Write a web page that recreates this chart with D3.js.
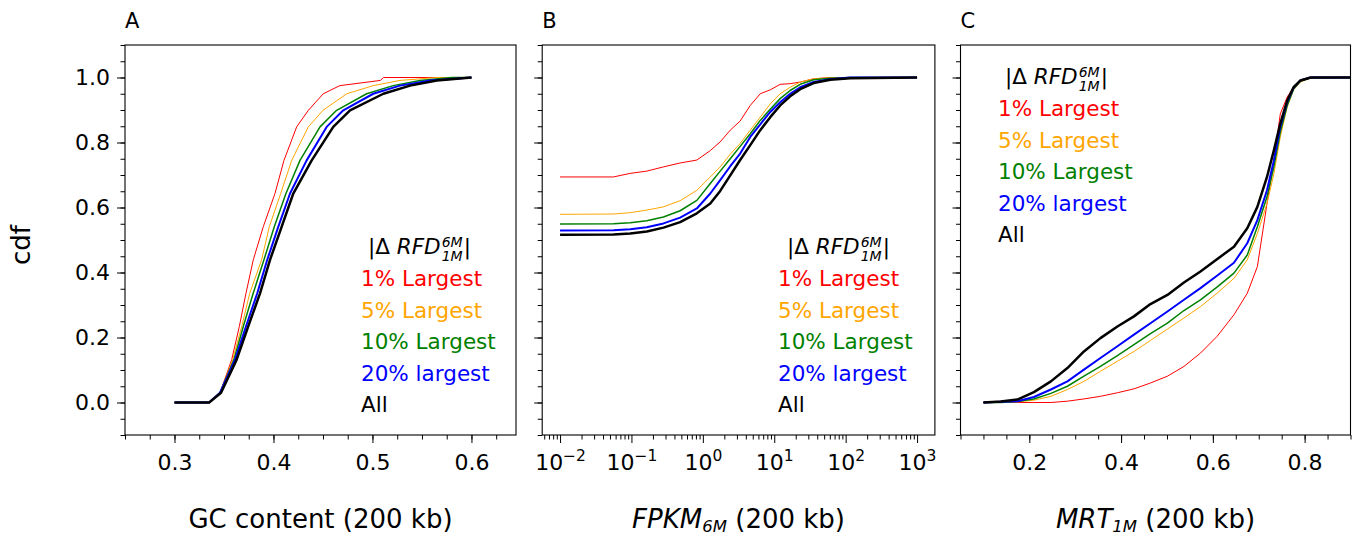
<!DOCTYPE html>
<html>
<head>
<meta charset="utf-8">
<script src="https://cdn.jsdelivr.net/npm/d3@7"></script>
<style>
  body { margin: 0; background: #fff; }
  svg { display: block; }
  text { font-family: "DejaVu Sans", sans-serif; fill: #000; }
</style>
</head>
<body>
<svg id="fig" width="1357" height="537"></svg>
<script>
// ---- series definitions ----
const seriesNames  = ["1% Largest", "5% Largest", "10% Largest", "20% largest", "All"];
const seriesColors = ["#ff0000", "#ffa500", "#008000", "#0000ff", "#000000"];
const seriesWidths = [1, 1, 1.5, 2, 2.5];

// ---- panel A: GC content, given as quantiles at shared cdf levels ----
const gcLevels = [0, 0, 0.03, 0.132, 0.234, 0.336, 0.439, 0.541, 0.643, 0.745, 0.848, 0.899, 0.95, 0.975, 0.991, 1.0, 1.0];
const gcRed    = [0.30, 0.335, 0.346, 0.3578, 0.3655, 0.3722, 0.3796, 0.3897, 0.4015, 0.4106, 0.4234, 0.4352, 0.4503, 0.467, 0.508, 0.511, 0.60];
const gcOrange = [0.30, 0.335, 0.346, 0.3588, 0.3679, 0.376, 0.388, 0.3958, 0.4073, 0.4184, 0.4352, 0.450, 0.474, 0.5008, 0.5278, 0.565, 0.60];
const gcGreen  = [0.30, 0.335, 0.346, 0.3601, 0.3695, 0.3795, 0.3904, 0.4008, 0.4126, 0.4268, 0.447, 0.4638, 0.4941, 0.521, 0.548, 0.58, 0.60];
const gcBlue   = [0.30, 0.335, 0.346, 0.3611, 0.3722, 0.3836, 0.3937, 0.4049, 0.4167, 0.4335, 0.4537, 0.4705, 0.5008, 0.5278, 0.558, 0.60, 0.60];
const gcAll    = [0.30, 0.335, 0.347, 0.3628, 0.3745, 0.3864, 0.3965, 0.4083, 0.42, 0.4386, 0.4604, 0.4773, 0.511, 0.538, 0.565, 0.60, 0.60];

// ---- panel B: FPKM grid and cdf values ----
const fpkmGrid   = [0.01, 0.056, 0.096, 0.164, 0.281, 0.481, 0.824, 1.27, 1.75, 2.42, 3.33, 4.61, 6.37, 8.79, 12.1, 16.7, 23.1, 35.6, 61.0, 116, 1000];
const fpkmRed    = [0.694, 0.694, 0.705, 0.712, 0.725, 0.737, 0.746, 0.775, 0.802, 0.838, 0.866, 0.914, 0.950, 0.962, 0.979, 0.981, 0.986, 0.996, 1.0, 1.0, 1.0];
const fpkmOrange = [0.579, 0.580, 0.584, 0.592, 0.602, 0.621, 0.653, 0.694, 0.725, 0.764, 0.797, 0.838, 0.878, 0.919, 0.950, 0.970, 0.986, 0.996, 0.999, 1.0, 1.0];
const fpkmGreen  = [0.549, 0.550, 0.553, 0.559, 0.571, 0.590, 0.622, 0.674, 0.712, 0.750, 0.788, 0.827, 0.868, 0.902, 0.935, 0.960, 0.979, 0.993, 0.998, 1.0, 1.0];
const fpkmBlue   = [0.529, 0.530, 0.533, 0.539, 0.551, 0.569, 0.597, 0.643, 0.684, 0.727, 0.766, 0.817, 0.856, 0.894, 0.924, 0.950, 0.970, 0.986, 0.995, 1.0, 1.0];
const fpkmAll    = [0.516, 0.517, 0.520, 0.526, 0.538, 0.555, 0.582, 0.612, 0.651, 0.699, 0.746, 0.792, 0.838, 0.878, 0.914, 0.942, 0.964, 0.983, 0.993, 0.998, 1.0];

// ---- panel C: MRT grid and cdf values ----
const mrtGrid   = [0.1, 0.1377, 0.174, 0.210, 0.247, 0.283, 0.319, 0.355, 0.392, 0.428, 0.464, 0.501, 0.537, 0.573, 0.609, 0.646, 0.675, 0.697, 0.718, 0.733, 0.747, 0.762, 0.776, 0.791, 0.813, 0.90];
const mrtRed    = [0, 0, 0, 0, 0, 0.004, 0.011, 0.019, 0.030, 0.042, 0.060, 0.081, 0.111, 0.152, 0.203, 0.270, 0.336, 0.418, 0.612, 0.745, 0.888, 0.940, 0.970, 0.993, 1.0, 1.0];
const mrtOrange = [0, 0, 0.002, 0.007, 0.019, 0.040, 0.065, 0.096, 0.127, 0.157, 0.191, 0.226, 0.260, 0.295, 0.336, 0.382, 0.439, 0.520, 0.612, 0.704, 0.817, 0.909, 0.962, 0.986, 0.998, 1.0];
const mrtGreen  = [0, 0, 0.003, 0.011, 0.028, 0.050, 0.081, 0.111, 0.144, 0.178, 0.212, 0.244, 0.283, 0.316, 0.355, 0.398, 0.454, 0.541, 0.633, 0.725, 0.832, 0.914, 0.965, 0.989, 0.999, 1.0];
const mrtBlue   = [0, 0.002, 0.004, 0.017, 0.040, 0.065, 0.101, 0.137, 0.173, 0.209, 0.244, 0.280, 0.316, 0.352, 0.390, 0.430, 0.490, 0.561, 0.653, 0.745, 0.848, 0.924, 0.968, 0.991, 1.0, 1.0];
const mrtAll    = [0, 0.003, 0.009, 0.032, 0.065, 0.106, 0.157, 0.198, 0.234, 0.265, 0.303, 0.331, 0.369, 0.403, 0.441, 0.479, 0.536, 0.602, 0.694, 0.776, 0.858, 0.929, 0.970, 0.991, 1.0, 1.0];

// ---- tick labels ----
const cdfTicks  = [0.0, 0.2, 0.4, 0.6, 0.8, 1.0];
const gcTicks   = [0.3, 0.4, 0.5, 0.6];
const fpkmTicks = [1e-2, 1e-1, 1e0, 1e1, 1e2, 1e3];
const mrtTicks  = [0.2, 0.4, 0.6, 0.8];

// ---- layout ----
const svg = d3.select("#fig");
const TOP = 45, BOTTOM = 435;
const TICK_FS = 22, LABEL_FS = 26, LEG_FS = 21.5, SCRIPT_FS = 14;
const y = d3.scaleLinear().domain([-0.1, 1.1]).range([BOTTOM, TOP]);

function minorRange(a, b, step) {
  const out = [];
  for (let k = Math.ceil(a / step - 1e-9); k * step <= b + 1e-9; k++) out.push(+(k * step).toFixed(6));
  return out;
}

function drawPanel(p) {
  const g = svg.append("g");
  const x = p.x;
  const [x0, x1] = x.range();

  const clipId = "clip-" + p.letter;
  svg.append("clipPath").attr("id", clipId)
    .append("rect").attr("x", x0).attr("y", TOP).attr("width", x1 - x0).attr("height", BOTTOM - TOP);

  // cdf curves
  const line = d3.line().x(d => x(d[0])).y(d => y(d[1]));
  const lines = g.append("g").attr("clip-path", `url(#${clipId})`);
  p.series.forEach((s, i) => {
    lines.append("path")
      .datum(s)
      .attr("fill", "none")
      .attr("stroke", seriesColors[i])
      .attr("stroke-width", seriesWidths[i])
      .attr("stroke-linejoin", "round")
      .attr("d", line);
  });

  // x axis: minor then major ticks
  const xMinor = g.append("g").attr("transform", `translate(0,${BOTTOM})`)
    .call(d3.axisBottom(x).tickValues(p.xMinor).tickSize(4.5).tickFormat(""));
  xMinor.select(".domain").remove();
  const xMajor = g.append("g").attr("transform", `translate(0,${BOTTOM})`)
    .call(d3.axisBottom(x).tickValues(p.xTicks).tickSize(8).tickFormat(p.xFormat));
  xMajor.select(".domain").remove();
  xMajor.selectAll(".tick text")
    .attr("font-size", TICK_FS).attr("font-family", "DejaVu Sans")
    .attr("fill", "#000").attr("y", 35).attr("dy", 0);
  if (p.logLabels) {
    xMajor.selectAll(".tick text").each(function (d) {
      const e = Math.round(Math.log10(d));
      const t = d3.select(this).text("");
      t.append("tspan").text("10");
      t.append("tspan").attr("dy", -9).attr("font-size", 15.5).text(e < 0 ? "\u2212" + (-e) : String(e));
    });
  }

  // y axis: minor then major ticks
  const yMinor = g.append("g").attr("transform", `translate(${x0},0)`)
    .call(d3.axisLeft(y).tickValues(minorRange(-0.1, 1.1, 0.05)).tickSize(4.5).tickFormat(""));
  yMinor.select(".domain").remove();
  const yMajor = g.append("g").attr("transform", `translate(${x0},0)`)
    .call(d3.axisLeft(y).tickValues(cdfTicks).tickSize(8).tickPadding(7)
      .tickFormat(p.yLabels ? d3.format(".1f") : ""));
  yMajor.select(".domain").remove();
  yMajor.selectAll(".tick text").attr("font-size", TICK_FS).attr("font-family", "DejaVu Sans").attr("fill", "#000");
  g.selectAll(".tick line").attr("stroke", "#000").attr("stroke-width", 1);

  // frame
  g.append("rect").attr("x", x0).attr("y", TOP).attr("width", x1 - x0).attr("height", BOTTOM - TOP)
    .attr("fill", "none").attr("stroke", "#000").attr("stroke-width", 1.1);

  // panel letter
  g.append("text").attr("x", x0).attr("y", 28).attr("font-size", 21).text(p.letter);

  // x-axis label
  const lab = g.append("text").attr("x", (x0 + x1) / 2).attr("y", 528)
    .attr("text-anchor", "middle").attr("font-size", LABEL_FS);
  p.xLabel(lab);

  // legend header |Δ RFD^6M_1M| with stacked scripts
  const lg = g.append("g");
  const hx = p.legend.hx, hy = p.legend.hy;
  const head = lg.append("text").attr("x", hx).attr("y", hy).attr("font-size", LEG_FS);
  head.append("tspan").text("|\u0394 ");
  head.append("tspan").attr("font-style", "italic").text("RFD");
  const hw = head.node().getComputedTextLength();
  const sup = lg.append("text").attr("x", hx + hw + 1).attr("y", hy - 7.5)
    .attr("font-size", SCRIPT_FS).attr("font-style", "italic").text("6M");
  const sub = lg.append("text").attr("x", hx + hw + 1).attr("y", hy + 6.5)
    .attr("font-size", SCRIPT_FS).attr("font-style", "italic").text("1M");
  const sw = Math.max(sup.node().getComputedTextLength(), sub.node().getComputedTextLength());
  lg.append("text").attr("x", hx + hw + sw + 2).attr("y", hy).attr("font-size", LEG_FS).text("|");

  seriesNames.forEach((name, i) => {
    lg.append("text")
      .attr("x", p.legend.ix)
      .attr("y", hy + 32 + i * 31.5)
      .attr("font-size", LEG_FS)
      .style("fill", seriesColors[i])
      .text(name);
  });
}

// ---- assemble point lists ----
const zip = (xs, ys) => xs.map((v, i) => [v, ys[i]]);

const panelA = {
  letter: "A",
  x: d3.scaleLinear().domain([0.25, 0.645]).range([125, 516]),
  series: [gcRed, gcOrange, gcGreen, gcBlue, gcAll].map(xs => zip(xs, gcLevels)),
  xTicks: gcTicks,
  xMinor: minorRange(0.25, 0.645, 0.025),
  xFormat: d3.format(".1f"),
  yLabels: true,
  legend: { hx: 368, ix: 361, hy: 254 },
  xLabel: t => t.text("GC content (200 kb)")
};

const panelB = {
  letter: "B",
  x: d3.scaleLog().domain([Math.pow(10, -2.25), Math.pow(10, 3.25)]).range([542.2, 934.9]),
  series: [fpkmRed, fpkmOrange, fpkmGreen, fpkmBlue, fpkmAll].map(ys => zip(fpkmGrid, ys)),
  xTicks: fpkmTicks,
  xMinor: (() => {
    const m = [];
    for (let e = -3; e <= 3; e++) for (let k = 2; k <= 9; k++) {
      const v = k * Math.pow(10, e);
      if (v >= Math.pow(10, -2.25) && v <= Math.pow(10, 3.25)) m.push(v);
    }
    return m;
  })(),
  xFormat: d => d,
  logLabels: true,
  yLabels: false,
  legend: { hx: 787, ix: 778, hy: 254 },
  xLabel: t => {
    t.append("tspan").attr("font-style", "italic").text("FPKM");
    t.append("tspan").attr("font-style", "italic").attr("font-size", 16.5).attr("dy", 4).text("6M");
    t.append("tspan").attr("dy", -4).text(" (200 kb)");
  }
};

const panelC = {
  letter: "C",
  x: d3.scaleLinear().domain([0.05, 0.9]).range([960.5, 1350.5]),
  series: [mrtRed, mrtOrange, mrtGreen, mrtBlue, mrtAll].map(ys => zip(mrtGrid, ys)),
  xTicks: mrtTicks,
  xMinor: minorRange(0.05, 0.9, 0.05),
  xFormat: d3.format(".1f"),
  yLabels: false,
  legend: { hx: 1005, ix: 998, hy: 84 },
  xLabel: t => {
    t.append("tspan").attr("font-style", "italic").text("MRT");
    t.append("tspan").attr("font-style", "italic").attr("font-size", 16.5).attr("dy", 4).text("1M");
    t.append("tspan").attr("dy", -4).text(" (200 kb)");
  }
};

[panelA, panelB, panelC].forEach(drawPanel);

// shared y label
svg.append("text")
  .attr("transform", "translate(30,245) rotate(-90)")
  .attr("text-anchor", "middle")
  .attr("font-size", LABEL_FS)
  .text("cdf");
</script>
</body>
</html>
